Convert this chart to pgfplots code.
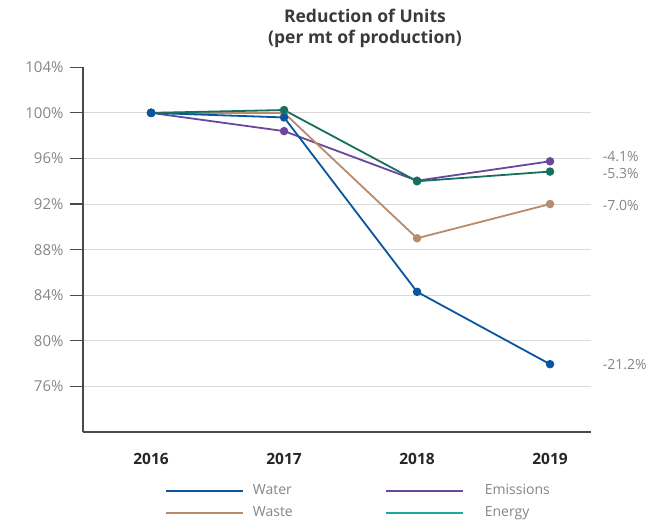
\documentclass[border=0pt]{standalone}
\usepackage{fontspec}
\setmainfont{Open Sans}
\usepackage{pgfplots}
\pgfplotsset{compat=1.18}
\definecolor{cWater}{HTML}{0A55A0}
\definecolor{cEmis}{HTML}{6A479E}
\definecolor{cWaste}{HTML}{B88B6B}
\definecolor{cEnergy}{HTML}{17705F}
\definecolor{cEnergyLeg}{HTML}{1AA99C}
\definecolor{cGrid}{HTML}{DADADA}
\definecolor{cTick}{HTML}{858585}
\definecolor{cAxis}{HTML}{4A4A4A}
\definecolor{cTitle}{HTML}{3A3A3A}
\pgfplotsset{widelegend/.style={legend image code/.code={\draw[##1, line width=2.2bp] (0bp,0bp) -- (77bp,0bp); \path (95bp,0bp);}}}
\begin{document}
\begin{tikzpicture}[x=1bp,y=1bp]
\useasboundingbox (0,0) rectangle (670,521);
\node[anchor=base,text=cTitle,font=\fontsize{17.5bp}{19bp}\selectfont\bfseries,inner sep=0] at (365,498) {Reduction of Units};
\node[anchor=base,text=cTitle,font=\fontsize{17.5bp}{19bp}\selectfont\bfseries,inner sep=0] at (365,477) {(per mt of production)};
\begin{axis}[
  at={(83bp,89bp)}, anchor=south west,
  scale only axis, width=507.7bp, height=364.7bp,
  xmin=-0.512, xmax=3.306, ymin=72, ymax=104,
  axis lines=left, axis line style={-, cAxis, line width=1.2bp},
  xtick={0,1,2,3}, xticklabels={2016,2017,2018,2019},
  xtick style={draw=none},
  xticklabel style={font=\fontsize{15.5bp}{17bp}\selectfont\bfseries, text=black!85, yshift=-5bp},
  ytick={76,80,84,88,92,96,100},
  extra y ticks={104}, extra y tick style={grid=none},
  yticklabel={\pgfmathprintnumber{\tick}\%},
  extra y tick labels={104\%},
  yticklabel style={font=\fontsize{15bp}{17bp}\selectfont, text=cTick, xshift=-3bp},
  /pgf/number format/assume math mode=true,
  ymajorgrids, major grid style={cGrid, line width=1bp},
  tick align=outside, major tick length=13bp,
  ytick style={cAxis, line width=1.2bp},
  clip=false,
  legend columns=2,
  legend style={at={(rel axis cs:0.155,-0.13)}, anchor=north west, draw=none, fill=none,
    font=\fontsize{14bp}{16bp}\selectfont, text=cTick,
    row sep=3bp,
    nodes={inner sep=3bp, text height=10bp, text depth=3bp},
    /tikz/every even column/.append style={column sep=89bp}},
  legend cell align=left,
  legend image code/.code={\draw[#1, line width=2.2bp] (0bp,0bp) -- (77bp,0bp); \path (83bp,0bp);},
  every axis plot/.append style={line width=1.8bp, mark=*, mark size=3.3bp, mark options={solid}},
]
\addplot[cEmis, forget plot] coordinates {(0,100) (1,98.4) (2,94.05) (3,95.75)};
\addplot[cWaste, forget plot] coordinates {(0,100) (1,100.0) (2,89.0) (3,92.0)};
\addplot[cWater, forget plot] coordinates {(0,100) (1,99.6) (2,84.3) (3,77.95)};
\addplot[cEnergy, forget plot] coordinates {(0,100) (1,100.25) (2,94.0) (3,94.85)};
\addplot[cWater, mark=*, only marks, forget plot] coordinates {(0,100)};
\addlegendimage{cWater}
\addlegendentry{Water}
\addlegendimage{cEmis, widelegend}
\addlegendentry{Emissions}
\addlegendimage{cWaste}
\addlegendentry{Waste}
\addlegendimage{cEnergyLeg, widelegend}
\addlegendentry{Energy}
\node[anchor=west, inner sep=0, text=cTick, font=\fontsize{14bp}{16bp}\selectfont] at (axis cs:3.306,96.2) [xshift=12bp] {-4.1\%};
\node[anchor=west, inner sep=0, text=cTick, font=\fontsize{14bp}{16bp}\selectfont] at (axis cs:3.306,94.7) [xshift=12bp] {-5.3\%};
\node[anchor=west, inner sep=0, text=cTick, font=\fontsize{14bp}{16bp}\selectfont] at (axis cs:3.306,91.9) [xshift=12bp] {-7.0\%};
\node[anchor=west, inner sep=0, text=cTick, font=\fontsize{14bp}{16bp}\selectfont] at (axis cs:3.306,77.9) [xshift=12bp] {-21.2\%};
\end{axis}
\end{tikzpicture}
\end{document}
